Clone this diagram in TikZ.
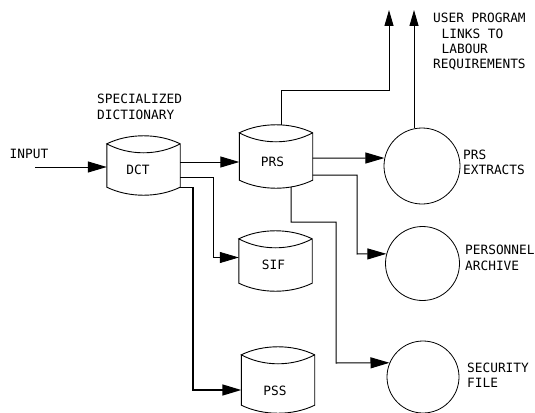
\documentclass[tikz,border=0pt]{standalone}
\usepackage{fontspec}
\setmonofont{DejaVu Sans Mono}
\usetikzlibrary{arrows.meta,calc}

% Outline of a drum (disk file) symbol drawn round a named rectangle node:
% sides, bulging bottom, and a lens-shaped top.
\newcommand\drumoutline[1]{%
  \draw[shapeline] (#1.north west) -- (#1.south west)
    .. controls +(22pt,-10.7pt) and +(-22pt,-10.7pt) .. (#1.south east)
    -- (#1.north east)
    .. controls +(-22pt,10.7pt) and +(22pt,10.7pt) .. (#1.north west)
    .. controls +(22pt,-12pt) and +(-22pt,-12pt) .. (#1.north east);%
}

\begin{document}
\begin{tikzpicture}[x=1pt,y=-1pt,
  shapeline/.style={line width=0.9pt},
  drum/.style={rectangle, inner sep=0pt, minimum width=73pt},
  disc/.style={circle, draw, line width=0.8pt, inner sep=0pt},
  txt/.style={font=\ttfamily\fontsize{12.8}{15}\selectfont, inner sep=0pt},
  lbl/.style={txt, align=left, anchor=north west},
  arr/.style={-{Triangle[length=19pt,width=11pt]}, line width=1pt},
  uparr/.style={-{Triangle[length=16pt,width=9pt]}, line width=1pt}]

\useasboundingbox (0,0) rectangle (535,412);

% file symbols
\node[drum, minimum height=43pt] (dct) at (143.5,165.5) {};
\node[drum, minimum height=47pt] (prs) at (276,156.5) {};
\node[drum, minimum height=44pt] (sif) at (275.5,261) {};
\node[drum, minimum height=50pt] (pss) at (278,380) {};
\drumoutline{dct}
\drumoutline{prs}
\drumoutline{sif}
\drumoutline{pss}
\node[txt] (dct-t) at (138,170) {DCT};
\node[txt] (prs-t) at (272.5,161.5) {PRS};
\node[txt] (sif-t) at (273.5,265) {SIF};
\node[txt] (pss-t) at (275,391) {PSS};

% output files
\node[disc, minimum size=76pt] (ext) at (422,166) {};
\node[disc, minimum size=74pt] (arch) at (422.5,263.5) {};
\node[disc, minimum size=72pt] (sec) at (423,377) {};

% labels
\node[lbl, font=\ttfamily\fontsize{12.8}{16}\selectfont] (spec) at (97,93.5) {SPECIALIZED\\DICTIONARY};
\node[txt, anchor=west] (input) at (9.5,154) {INPUT};
\node[lbl] (user) at (433,13.3) {USER PROGRAM\\\hspace*{8.5pt}LINKS TO\\\hspace*{8.5pt}LABOUR\\REQUIREMENTS};
\node[lbl] (ext-l) at (463,149.3) {PRS\\EXTRACTS};
\node[lbl, font=\ttfamily\fontsize{12.8}{16}\selectfont] (arch-l) at (465,244.3) {PERSONNEL\\ARCHIVE};
\node[lbl] (sec-l) at (467,362.3) {SECURITY\\FILE};

% bend points and free ends
\coordinate (in) at (35,167);
\coordinate (j1) at (213,257.5);
\coordinate (j2) at (193,390);
\coordinate (j3) at (357,254);
\coordinate (j4) at (291,222);
\coordinate (j5) at (336,363);
\coordinate (j6) at (389,90);
\coordinate (out1) at (389,10);

% connectors
\draw[arr] (in) -- (in -| dct.west);
\draw[arr] ([yshift=3.5pt]dct.east) -- ([yshift=3.5pt]dct.east -| prs.west);
\draw[arr, line width=0.8pt] ([yshift=-11.5pt]dct.east) -| (j1) -- (j1 -| sif.west);
\draw[arr, line width=1.4pt] (dct.south east) -| (j2) -- (j2 -| pss.west);
\draw[arr] ([yshift=-1.5pt]prs.east) -- (ext.168);
\draw[arr] ([yshift=-18.5pt]prs.east) -| (j3) -- (arch.165);
\draw[arr] ([xshift=15pt,yshift=-6.6pt]prs.south) -- (j4) -| (j5) -- (sec.157);
\draw[uparr] ([xshift=5pt,yshift=7.8pt]prs.north) |- (j6) -- (out1);
\draw[uparr] (ext.102) -- (ext.102 |- out1);
\end{tikzpicture}
\end{document}
